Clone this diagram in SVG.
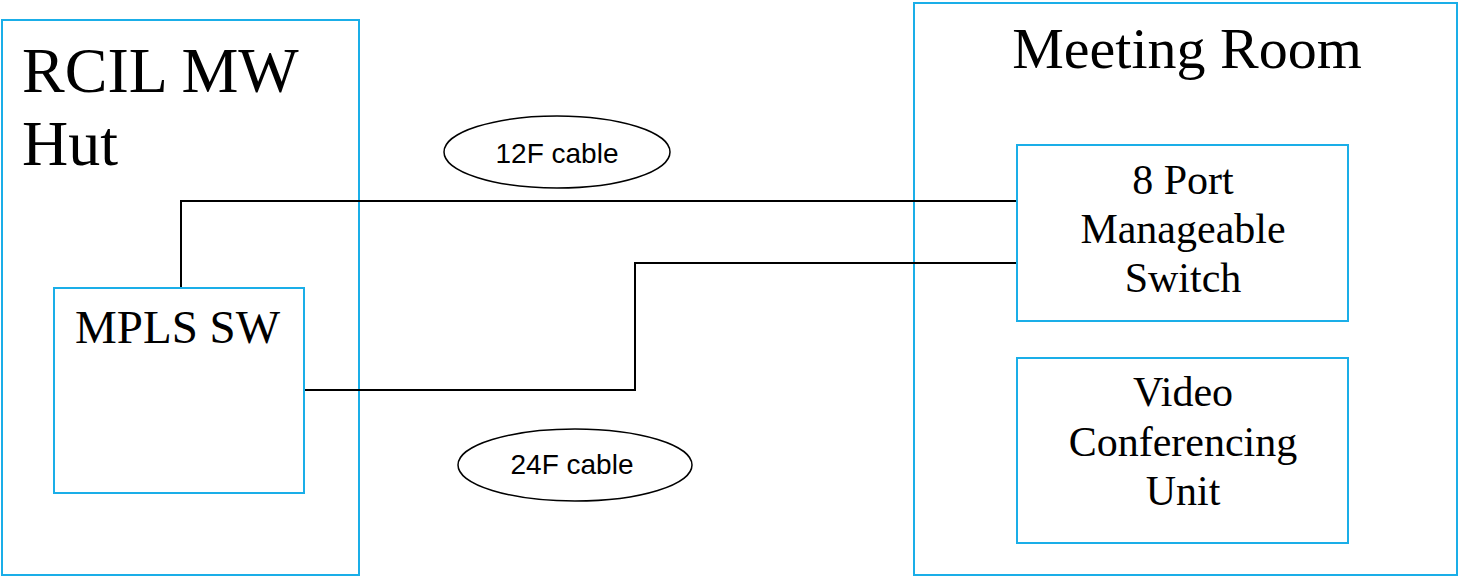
<svg xmlns="http://www.w3.org/2000/svg" width="1459" height="577" viewBox="0 0 1459 577">
<style>
.box{fill:#fff;stroke:#1aaee8;stroke-width:2}
.t{font-family:"Liberation Serif","Times New Roman",serif;fill:#000}
.c{text-anchor:middle}
.wire{fill:none;stroke:#000;stroke-width:2}
.ell{fill:#fff;stroke:#000;stroke-width:1.5}
.lbl{font-family:"Liberation Sans",Arial,sans-serif;font-size:28px;fill:#000;text-anchor:middle}
</style>
<rect width="1459" height="577" fill="#fff"/>
<g id="rcil-hut">
<rect class="box" x="2" y="20" width="357" height="555"/>
<text class="t" x="22" y="92" font-size="64">RCIL MW</text>
<text class="t" x="22" y="165" font-size="64">Hut</text>
</g>
<g id="meeting-room">
<rect class="box" x="914" y="3" width="543" height="572"/>
<text class="t c" x="1187" y="68" font-size="58">Meeting Room</text>
</g>
<g id="connectors">
<polyline class="wire" points="181,288 181,201 1017,201"/>
<polyline class="wire" points="304,390 635,390 635,263 1017,263"/>
</g>
<g id="mpls-sw">
<rect class="box" x="54" y="288" width="250" height="205"/>
<text class="t" x="75" y="343" font-size="47">MPLS SW</text>
</g>
<g id="switch">
<rect class="box" x="1017" y="145" width="331" height="176"/>
<text class="t c" x="1183" y="194" font-size="42">8 Port</text>
<text class="t c" x="1183" y="243" font-size="42">Manageable</text>
<text class="t c" x="1183" y="292" font-size="42">Switch</text>
</g>
<g id="vcu">
<rect class="box" x="1017" y="358" width="331" height="185"/>
<text class="t c" x="1183" y="406" font-size="42">Video</text>
<text class="t c" x="1183" y="456" font-size="42">Conferencing</text>
<text class="t c" x="1183" y="505" font-size="42">Unit</text>
</g>
<g id="cable-12f">
<ellipse class="ell" cx="557" cy="152" rx="113" ry="36"/>
<text class="lbl" x="557" y="163">12F cable</text>
</g>
<g id="cable-24f">
<ellipse class="ell" cx="575" cy="465" rx="117" ry="36"/>
<text class="lbl" x="572" y="474">24F cable</text>
</g>
</svg>
